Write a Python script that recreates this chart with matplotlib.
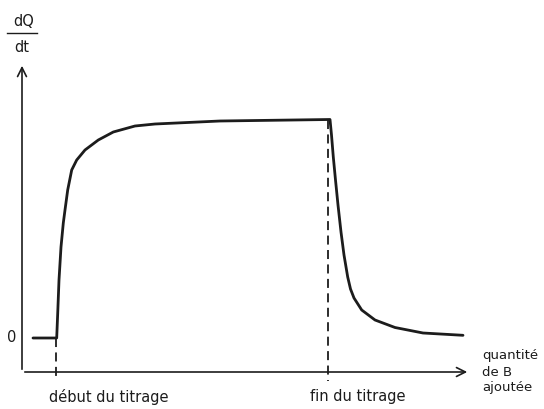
import matplotlib.pyplot as plt

# curve (x: quantity of B added, y: dQ/dt, arbitrary units)
x_curve = [1.1, 3.47, 3.57, 3.7, 3.9, 4.13, 4.3, 4.57, 4.97, 5.47, 6.3, 7.63,
           9.13, 11.3, 13.3, 19.8, 30.8, 30.95, 31.13, 31.35, 31.6, 31.9,
           32.2, 32.57, 32.85, 33.2, 33.97, 35.3, 37.3, 40.1, 44.1]
y_curve = [0.0, 0.0, 2.45, 5.8, 9.1, 11.5, 12.8, 14.8, 16.8, 17.8, 18.8, 19.8,
           20.6, 21.2, 21.4, 21.7, 21.85, 20.3, 18.1, 15.8, 13.3, 10.6,
           8.3, 6.1, 4.9, 4.0, 2.8, 1.8, 1.05, 0.5, 0.27]

x_start = 3.45   # début du titrage
x_end = 30.6     # fin du titrage
y_plateau = 21.85

ink = '#1c1c1c'
plt.rcParams['font.family'] = ['DejaVu Sans']

fig = plt.figure(figsize=(5.44, 4.09), dpi=100)
ax = fig.add_axes([0, 0, 1, 1])
ax.set_xlim(-2.2, 52.2)
ax.set_ylim(-7.1, 33.8)
ax.axis('off')

# axes with open arrowheads
ax.annotate('', xy=(44.8, -3.4), xytext=(0, -3.4),
            arrowprops=dict(arrowstyle='->', color=ink, lw=1.2, mutation_scale=16))
ax.annotate('', xy=(0, 27.5), xytext=(0, -3.4),
            arrowprops=dict(arrowstyle='->', color=ink, lw=1.2, mutation_scale=16))

# curve
ax.plot(x_curve, y_curve, color=ink, lw=2.0, solid_capstyle='round',
        solid_joinstyle='round')

# dashed markers
ax.plot([x_start, x_start], [0, -4.3], color=ink, lw=1.3, dashes=(5, 3))
ax.plot([x_end, x_end], [y_plateau, -4.3], color=ink, lw=1.3, dashes=(5, 3))

# labels
fs = 10.5
ax.text(-1.0, 0.0, '0', ha='center', va='center', fontsize=fs, color=ink)
ax.text(8.7, -5.9, 'début du titrage', ha='center', va='center',
        fontsize=fs, color=ink)
ax.text(33.6, -5.9, 'fin du titrage', ha='center', va='center',
        fontsize=fs, color=ink)
ax.text(46.0, -3.4, 'quantité\nde B\najoutée', ha='left', va='center',
        fontsize=9.5, color=ink, linespacing=1.3)
ax.text(0.2, 31.6, 'dQ', ha='center', va='center', fontsize=fs, color=ink)
ax.plot([-1.5, 1.5], [30.5, 30.5], color=ink, lw=1.0)
ax.text(0.0, 29.0, 'dt', ha='center', va='center', fontsize=fs, color=ink)

fig.savefig('out.png', dpi=100)
